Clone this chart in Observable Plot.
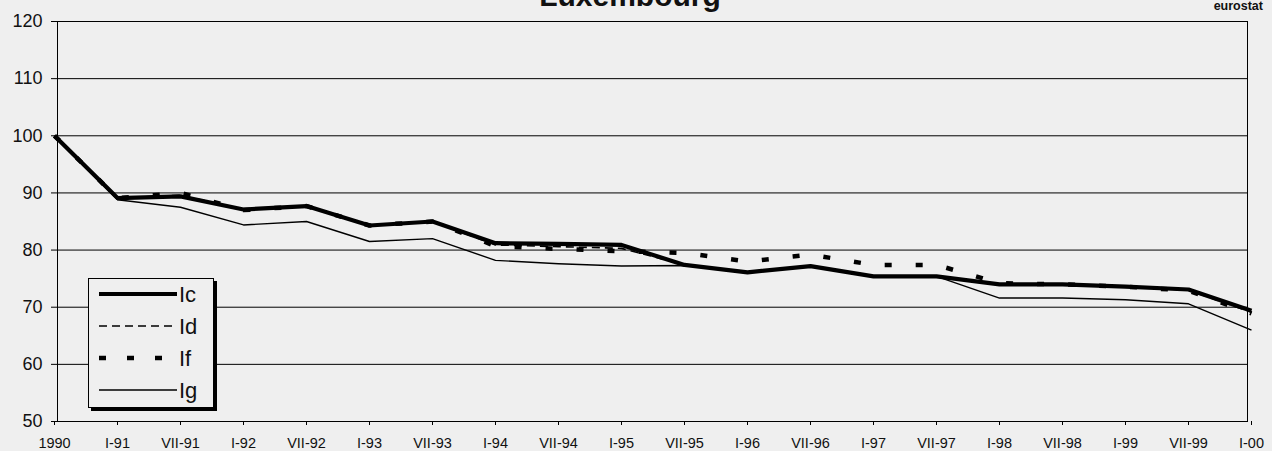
<!DOCTYPE html>
<html>
<head>
<meta charset="utf-8">
<script src="https://cdn.jsdelivr.net/npm/d3@7"></script>
<script src="https://cdn.jsdelivr.net/npm/@observablehq/plot@0.6"></script>
<style>
  html, body { margin: 0; padding: 0; background: #efefef; }
  #wrap { position: relative; width: 1272px; height: 451px; overflow: hidden; font-family: "Liberation Sans", Arial, sans-serif; }
  #title { position: absolute; left: 0; width: 1260px; text-align: center; top: -21px; font-size: 30px; font-weight: bold; color: #111; }
  #source { position: absolute; right: 9px; top: -1px; font-size: 12.5px; font-weight: bold; color: #111; }
  #legend { position: absolute; left: 88px; top: 278px; width: 124px; height: 128px; border: 1.5px solid #000; box-shadow: 3px 3px 0 #000; background: #efefef; }
  #legend svg { display: block; }
</style>
</head>
<body>
<div id="wrap">
  <div id="chart"></div>
  <div id="title">Luxembourg</div>
  <div id="source">eurostat</div>
  <div id="legend"></div>
</div>
<script>
// ---- data ----
const periods = ["1990","I-91","VII-91","I-92","VII-92","I-93","VII-93","I-94","VII-94","I-95",
                 "VII-95","I-96","VII-96","I-97","VII-97","I-98","VII-98","I-99","VII-99","I-00"];
const seriesNames = ["Ic","Id","If","Ig"];
const Ic = [100, 89.1, 89.4, 87.1, 87.7, 84.3, 85.0, 81.2, 81.1, 80.9, 77.4, 76.1, 77.2, 75.4, 75.4, 74.0, 74.0, 73.6, 73.1, 69.4];
const Id = [100, 89.1, 89.6, 87.1, 87.7, 84.3, 85.0, 80.9, 80.6, 80.3, 77.4, 76.1, 77.2, 75.4, 75.4, 74.0, 74.0, 73.6, 73.0, 69.1];
const If = [100, 89.1, 90.0, 87.0, 87.7, 84.3, 85.0, 80.7, 80.2, 79.8, 79.5, 78.0, 79.2, 77.4, 77.4, 74.2, 74.0, 73.6, 72.9, 68.9];
const Ig = [100, 88.8, 87.5, 84.4, 85.0, 81.5, 82.0, 78.2, 77.6, 77.2, 77.3, 76.1, 77.2, 75.4, 75.4, 71.6, 71.6, 71.3, 70.6, 66.0];
const yTicks = [50, 60, 70, 80, 90, 100, 110, 120];

// ---- build table ----
const valuesBySeries = {Ic, Id, If, Ig};
const data = seriesNames.flatMap(s => valuesBySeries[s].map((v, i) => ({series: s, period: periods[i], value: v})));

const styles = {
  Ic: {strokeWidth: 4.2, strokeDasharray: null},
  Id: {strokeWidth: 1.6, strokeDasharray: "8,5"},
  If: {strokeWidth: 4.5, strokeDasharray: "7,24"},
  Ig: {strokeWidth: 1.4, strokeDasharray: null}
};
const drawOrder = ["Ig", "Ic", "Id", "If"];

const chart = Plot.plot({
  width: 1272,
  height: 451,
  marginLeft: 57,
  marginRight: 25,
  marginTop: 21,
  marginBottom: 30,
  style: {background: "transparent", fontFamily: "'Liberation Sans', Arial, sans-serif", color: "#111"},
  x: {type: "point", domain: periods, range: [52, 1252], padding: 0, label: null},
  y: {domain: [50, 120], label: null},
  marks: [
    Plot.gridY(yTicks, {stroke: "#000", strokeOpacity: 1, strokeWidth: 1}),
    Plot.frame({stroke: "#000", strokeWidth: 1}),
    ...drawOrder.map(s => Plot.line(data.filter(d => d.series === s), {
      x: "period", y: "value", stroke: "#000",
      strokeWidth: styles[s].strokeWidth,
      strokeDasharray: styles[s].strokeDasharray,
      strokeLinejoin: "round", strokeLinecap: "butt"
    })),
    Plot.axisY(yTicks, {tickSize: 6, tickPadding: 9, fontSize: 18, label: null, stroke: "#000"}),
    Plot.axisX({tickSize: 4, tickPadding: 12, fontSize: 14.5, label: null, stroke: "#000"})
  ]
});
document.getElementById("chart").appendChild(chart);

// ---- legend ----
const leg = d3.select("#legend").append("svg").attr("width", 124).attr("height", 128);
seriesNames.forEach((s, i) => {
  const y = 15 + i * 32;
  leg.append("line").attr("x1", 10).attr("x2", 88).attr("y1", y).attr("y2", y)
    .attr("stroke", "#000").attr("stroke-width", styles[s].strokeWidth)
    .attr("stroke-dasharray", s === "If" ? "7,21" : styles[s].strokeDasharray);
  leg.append("text").attr("x", 90).attr("y", y + 8).text(s)
    .attr("font-size", 22).attr("font-family", "'Liberation Sans', Arial, sans-serif").attr("fill", "#111");
});
</script>
</body>
</html>
